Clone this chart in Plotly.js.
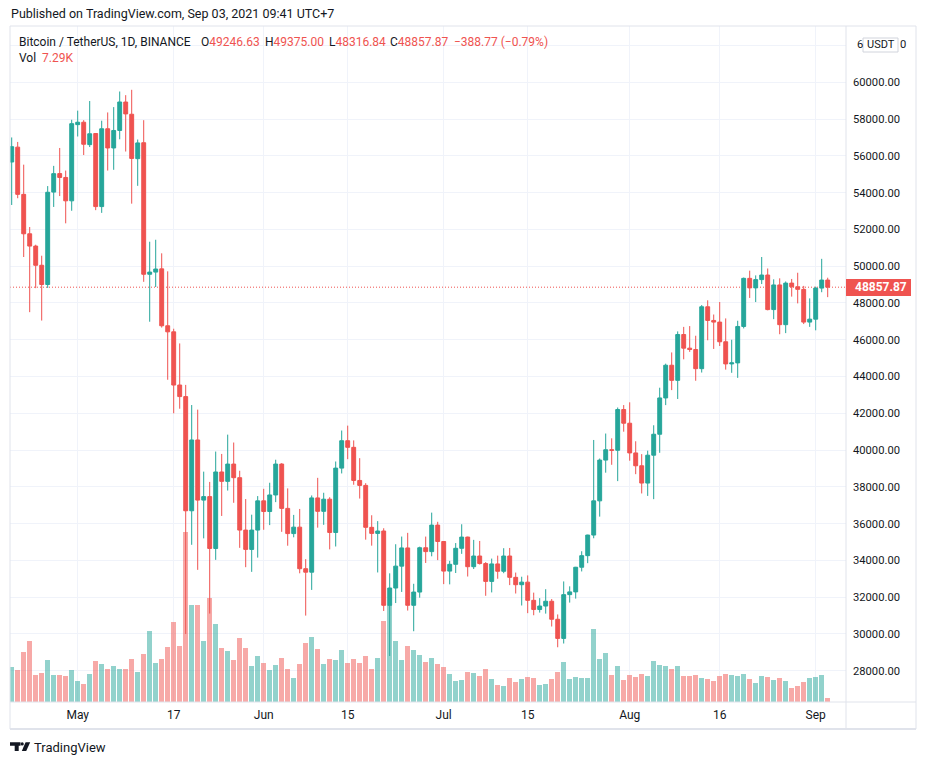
<!DOCTYPE html>
<html><head><meta charset="utf-8">
<script src="https://cdn.plot.ly/plotly-3.0.1.min.js"></script>
<style>html,body{margin:0;padding:0;background:#fff;}#chart{width:926px;height:765px;}</style>
</head><body><div id="chart"></div>
<script>
// ---------- data ----------
const dates = [
'2021-04-20','2021-04-21','2021-04-22','2021-04-23','2021-04-24','2021-04-25','2021-04-26','2021-04-27','2021-04-28','2021-04-29','2021-04-30',
'2021-05-01','2021-05-02','2021-05-03','2021-05-04','2021-05-05','2021-05-06','2021-05-07','2021-05-08','2021-05-09','2021-05-10',
'2021-05-11','2021-05-12','2021-05-13','2021-05-14','2021-05-15','2021-05-16','2021-05-17','2021-05-18','2021-05-19','2021-05-20',
'2021-05-21','2021-05-22','2021-05-23','2021-05-24','2021-05-25','2021-05-26','2021-05-27','2021-05-28','2021-05-29','2021-05-30','2021-05-31',
'2021-06-01','2021-06-02','2021-06-03','2021-06-04','2021-06-05','2021-06-06','2021-06-07','2021-06-08','2021-06-09','2021-06-10',
'2021-06-11','2021-06-12','2021-06-13','2021-06-14','2021-06-15','2021-06-16','2021-06-17','2021-06-18','2021-06-19','2021-06-20',
'2021-06-21','2021-06-22','2021-06-23','2021-06-24','2021-06-25','2021-06-26','2021-06-27','2021-06-28','2021-06-29','2021-06-30',
'2021-07-01','2021-07-02','2021-07-03','2021-07-04','2021-07-05','2021-07-06','2021-07-07','2021-07-08','2021-07-09','2021-07-10',
'2021-07-11','2021-07-12','2021-07-13','2021-07-14','2021-07-15','2021-07-16','2021-07-17','2021-07-18','2021-07-19','2021-07-20',
'2021-07-21','2021-07-22','2021-07-23','2021-07-24','2021-07-25','2021-07-26','2021-07-27','2021-07-28','2021-07-29','2021-07-30','2021-07-31',
'2021-08-01','2021-08-02','2021-08-03','2021-08-04','2021-08-05','2021-08-06','2021-08-07','2021-08-08','2021-08-09','2021-08-10',
'2021-08-11','2021-08-12','2021-08-13','2021-08-14','2021-08-15','2021-08-16','2021-08-17','2021-08-18','2021-08-19','2021-08-20',
'2021-08-21','2021-08-22','2021-08-23','2021-08-24','2021-08-25','2021-08-26','2021-08-27','2021-08-28','2021-08-29','2021-08-30','2021-08-31',
'2021-09-01','2021-09-02','2021-09-03'];

const open = [
55664,56473,53906,51762,51093,50050,49004,54030,55036,54825,53555,
57697,57828,56610,57214,53241,57473,56429,57381,58926,58263,55847,56714,49560,49680,49855,46760,46430,43538,42909,36700,40550,37280,37470,34650,38810,38300,39240,38500,35650,34600,35650,
37240,36660,37560,39240,36830,35460,35810,33550,33360,37400,36670,37330,35520,39020,40510,40150,38350,38080,35800,35470,35600,31560,32500,33690,34680,31560,32280,34690,34480,35920,
35030,33420,33790,34660,35270,33660,34240,33830,32860,33810,33410,34240,33080,32680,32820,31830,31330,31520,31780,30800,29760,32140,32290,33630,34260,35380,37240,39457,40019,39990,42206,
41461,39846,39147,38207,39723,40862,42836,44614,43792,46285,45543,45470,44428,47793,47050,46960,45890,44686,44742,46723,49339,48820,49270,49520,47640,48980,46820,49080,48880,48740,46960,
47120,48810,49246.63];

const high = [
57000,56757,55521,52130,51167,50569,54356,55456,56428,55200,57963,
58458,57941,58981,57236,57911,58360,58650,59500,59300,59592,56888,57939,51330,51438,50700,49720,46600,45800,43546,42451,42200,38829,38270,39920,39791,40841,40411,38877,37338,36488,37499,
37894,38225,39476,39289,37917,36476,36800,34068,37534,38491,37680,37437,39380,41064,41330,40527,39560,38200,36457,36138,35750,33298,34881,35298,35500,32730,34749,35297,36600,36100,
35057,33977,34945,35967,35293,35118,35059,33909,34100,34262,34666,34678,33340,33114,33185,32249,31950,32435,31899,31063,32858,32591,33650,34500,35398,40550,39542,40900,40640,42316,42448,
42599,40480,39780,39969,41350,43392,44700,45310,46454,46700,46743,46218,47886,48144,47372,48053,47160,46000,47033,49382,49757,49500,50500,49875,49286,49340,49170,49307,49644,48929,48249,
48888,50400,49375.00];

const low = [
53329,53695,50500,47500,48805,47044,48817,53222,53813,52330,53013,
57053,56044,56478,53047,52900,55200,55241,56900,56235,53400,54370,49150,46980,48868,46664,43825,42001,42250,30000,34850,33488,35200,31111,34031,36419,37800,37134,34684,33632,33379,34153,
35667,35920,37170,35555,34800,35258,33300,31000,32396,35782,35936,34601,34758,38730,39506,38116,37365,35129,34803,33346,31251,28805,31683,32287,31275,30151,31973,33862,34225,34017,
32711,32699,33316,34357,33125,33532,33777,32077,32261,33004,33306,32658,32202,31550,31133,31020,31164,31108,30407,29278,29482,31708,31924,33401,33851,35205,36383,38772,39200,38313,41000,
39422,38690,37642,37508,37332,39853,42446,43261,42779,44936,45341,43770,44217,45971,45500,45660,44376,44203,43927,46616,48273,48050,49029,47600,47119,46300,46361,48346,47978,46853,46700,
46512,48584,48316.84];

const close = [
56499,53906,51762,51093,50050,49004,54021,55033,54824,53555,57750,
57828,56631,57200,53241,57473,56429,57380,58929,58280,55859,56704,49560,49680,49845,46760,46430,43537,42910,36700,40550,37280,37470,34650,38810,38300,39240,38500,35650,34600,35650,37240,
36660,37560,39240,36830,35460,35810,33550,33360,37400,36670,37330,35520,39020,40510,40150,38350,38080,35800,35470,35600,31560,32500,33690,34680,31560,32280,34690,34480,35920,35030,
33420,33790,34660,35270,33660,34240,33830,32860,33810,33410,34240,33080,32680,32820,31830,31330,31520,31780,30800,29760,32140,32290,33630,34260,35380,37240,39457,40019,39990,42206,41461,
39846,39147,38207,39723,40862,42836,44614,43792,46285,45543,45470,44428,47793,47050,46960,45890,44686,44742,46723,49339,48820,49270,49520,47640,48980,46820,49080,48880,48740,46960,47120,
48810,49246.64,48857.87];

// volume, thousands of BTC
const volumeK = [
68,64,98,120,53,57,82,53,53,51,64,
41,35,55,80,74,66,70,66,66,84,60,94,139,76,84,108,157,110,334,192,192,120,205,153,106,100,82,127,106,70,90,
76,64,72,86,66,47,74,116,129,104,74,84,82,102,76,84,76,90,66,86,159,192,120,82,110,102,92,78,86,74,
68,55,41,43,60,57,51,66,45,33,31,47,39,45,49,47,33,35,45,59,78,45,49,47,47,143,84,96,53,70,43,
53,49,55,51,80,72,70,66,70,51,51,53,47,45,41,51,55,53,51,55,45,37,51,49,43,47,41,27,31,39,47,
49,53,7.29];

const tickDates = ['2021-05-01','2021-05-17','2021-06-01','2021-06-15','2021-07-01','2021-07-15','2021-08-01','2021-08-16','2021-09-01'];
const tickText  = ['May','17','Jun','15','Jul','15','Aug','16','Sep'];
const priceTicks = [28000,30000,32000,34000,36000,38000,40000,42000,44000,46000,48000,50000,52000,54000,56000,58000,60000,62000];
const hiddenTick = 62000;   // label covered by the currency badge
const lastClose = 48857.87;
const lastVol = '7.29K';

// ---------- styling ----------
const UP = '#26a69a', DOWN = '#ef5350', TXT = '#131722', GRID = '#f0f3fa', FRAME = '#e0e3eb';
const FONT = 'Roboto, sans-serif';
const volColors = close.map((c, i) => c >= open[i] ? 'rgba(38,166,154,0.5)' : 'rgba(239,83,80,0.5)');
const priceTickText = priceTicks.map(v => v === hiddenTick ? '' : v.toFixed(2));
const hiddenLabel = hiddenTick.toFixed(2);

const L = 10, T = 26, W = 836, H = 676;
const px = x => (x - L) / W;
const py = y => (T + H - y) / H;

const traces = [
  {type: 'bar', x: dates, y: volumeK, yaxis: 'y', xaxis: 'x',
   marker: {color: volColors, line: {width: 0}}, width: 0.78 * 86400000, hoverinfo: 'skip'},
  {type: 'candlestick', x: dates, open: open, high: high, low: low, close: close,
   xaxis: 'x', yaxis: 'y2', whiskerwidth: 0,
   increasing: {line: {color: UP, width: 1}, fillcolor: UP},
   decreasing: {line: {color: DOWN, width: 1}, fillcolor: DOWN},
   hoverinfo: 'skip'}
];

function line(x0, y0, x1, y1, w, c) {
  return {type: 'line', xref: 'paper', yref: 'paper', x0: px(x0), y0: py(y0), x1: px(x1), y1: py(y1),
          line: {color: c || FRAME, width: w || 1}, layer: 'above'};
}
function rect(x0, y0, x1, y1, fill, lc, lw) {
  return {type: 'rect', xref: 'paper', yref: 'paper', x0: px(x0), y0: py(y0), x1: px(x1), y1: py(y1),
          fillcolor: fill, line: {color: lc || fill, width: lw || 0}, layer: 'above'};
}
function pathPx(pts, fill) {
  const d = pts.map((p, i) => (i ? 'L' : 'M') + px(p[0]) + ',' + py(p[1])).join(' ') + ' Z';
  return {type: 'path', xref: 'paper', yref: 'paper', path: d, fillcolor: fill, line: {width: 0}, layer: 'above'};
}
function ann(x, y, text, opts) {
  return Object.assign({xref: 'paper', yref: 'paper', x: px(x), y: py(y), text: text, showarrow: false,
    xanchor: 'left', yanchor: 'middle', borderpad: 0, font: {size: 12, color: TXT, family: FONT}}, opts || {});
}
const red = s => '<span style="color:' + DOWN + '">' + s + '</span>';
const n = close.length;
const chg = close[n - 1] - close[n - 2];
const chgPct = chg / close[n - 2] * 100;
const fmt = v => v.toFixed(2);

const layout = {
  width: 926, height: 765,
  margin: {l: L, r: 926 - L - W, t: T, b: 765 - T - H, pad: 0},
  paper_bgcolor: '#ffffff', plot_bgcolor: '#ffffff',
  showlegend: false,
  font: {family: FONT, color: TXT, size: 11},
  boxgap: 0.35, boxgroupgap: 0,
  bargap: 0,
  xaxis: {type: 'date', range: ['2021-04-19 17:12', '2021-09-06 01:12'],
          tickmode: 'array', tickvals: tickDates, ticktext: tickText,
          showgrid: true, gridcolor: GRID, gridwidth: 1, ticks: '', zeroline: false, showline: false,
          tickfont: {size: 12, color: TXT}, rangeslider: {visible: false}, fixedrange: true,
          ticklabelstandoff: 4},
  yaxis: {range: [0, 1331.7], visible: false, fixedrange: true},
  yaxis2: {overlaying: 'y', side: 'right', range: [26302, 63061],
           tickmode: 'array', tickvals: priceTicks, ticktext: priceTickText,
           showgrid: true, gridcolor: GRID, gridwidth: 1, ticks: '', zeroline: false, showline: false,
           tickfont: {size: 11.2, color: TXT}, fixedrange: true, ticklabelstandoff: 6},
  shapes: [
    {type: 'line', xref: 'paper', x0: 0, x1: 1, yref: 'y2', y0: lastClose, y1: lastClose,
     line: {color: DOWN, width: 1, dash: '1px,2px'}, layer: 'below'},
    line(10, 26, 916, 26), line(10, 26, 10, 729), line(916, 26, 916, 729), line(10, 729, 916, 729, 2),
    line(846, 26, 846, 729), line(10, 702, 916, 702),
    rect(846, 279, 911, 296, DOWN),
    rect(863, 38, 898, 52, '#ffffff', '#d1d4dc', 1),
    // TradingView logo
    pathPx([[10, 742.3], [20.5, 742.3], [20.5, 745.7], [18.7, 745.7], [18.7, 751], [14.7, 751], [14.7, 745.7], [10, 745.7]], TXT),
    pathPx([[25.6, 742.3], [30.2, 742.3], [26.2, 751], [21.8, 751]], TXT),
    {type: 'circle', xref: 'paper', yref: 'paper', x0: px(20.6), x1: px(23.8), y0: py(742.3), y1: py(745.5),
     fillcolor: TXT, line: {width: 0}, layer: 'above'}
  ],
  annotations: [
    ann(10, 14, 'Published on TradingView.com, Sep 03, 2021 09:41 UTC+7', {font: {size: 12.5, color: TXT, family: FONT}}),
    ann(18, 42, 'Bitcoin / TetherUS, 1D, BINANCE'),
    ann(200, 42, 'O' + red(fmt(open[n - 1]))),
    ann(264, 42, 'H' + red(fmt(high[n - 1]))),
    ann(328, 42, 'L' + red(fmt(low[n - 1]))),
    ann(389, 42, 'C' + red(fmt(close[n - 1]))),
    ann(453, 42, red('\u2212' + fmt(Math.abs(chg)) + ' (\u2212' + Math.abs(chgPct).toFixed(2) + '%)')),
    ann(18, 58, 'Vol'),
    ann(41, 58, red(lastVol)),
    // visible fragments of the covered 62000.00 label on both sides of the badge
    ann(855.5, 45, hiddenLabel.slice(0, 1), {font: {size: 11.2, color: TXT, family: FONT}}),
    ann(898.5, 45, hiddenLabel.slice(-1), {font: {size: 11.2, color: TXT, family: FONT}}),
    ann(880.5, 286.8, '<b>' + fmt(lastClose) + '</b>', {xanchor: 'center', font: {size: 12, color: '#ffffff', family: FONT}}),
    ann(880.5, 45, 'USDT', {xanchor: 'center', font: {size: 11, color: TXT, family: FONT}}),
    ann(33, 747, 'TradingView', {font: {size: 13, color: TXT, family: FONT}})
  ]
};

Plotly.newPlot('chart', traces, layout, {staticPlot: true, displayModeBar: false});
</script>
</body></html>
